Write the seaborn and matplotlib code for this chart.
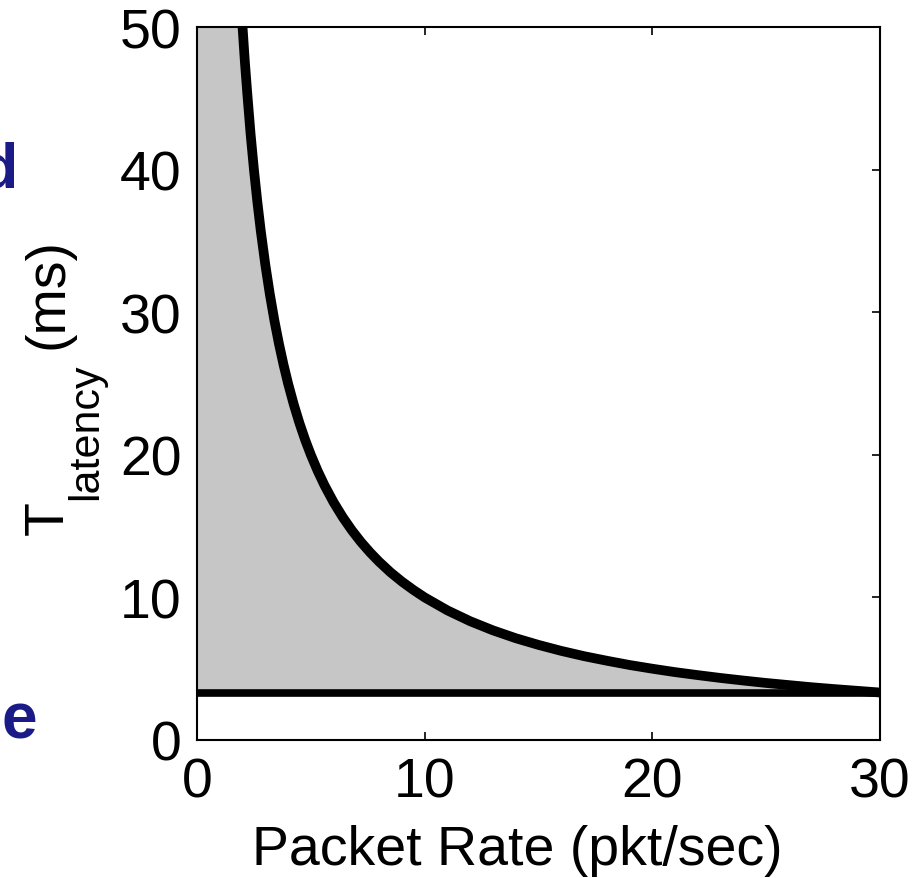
import seaborn as sns
import matplotlib
matplotlib.use('Agg')
import matplotlib.pyplot as plt

# latency bound curve (pkt/sec -> ms)
rate = [1.9, 2.0, 2.1, 2.2, 2.35, 2.5, 2.65, 2.8, 3.0, 3.2, 3.4, 3.6, 3.8, 4.0,
        4.25, 4.5, 4.75, 5.0, 5.3, 5.6, 6.0, 6.4, 6.8, 7.2, 7.6, 8.0, 8.5, 9.0,
        9.5, 10, 11, 12, 13, 14, 15, 16, 17, 18, 19, 20, 21, 22, 23, 24, 25,
        26, 27, 28, 29, 30]
latency = [52.6, 50.0, 47.6, 45.5, 42.55, 40.0, 37.74, 35.71, 33.33, 31.25, 29.41,
           27.78, 26.32, 25.0, 23.53, 22.22, 21.05, 20.0, 18.87, 17.86, 16.67,
           15.63, 14.71, 13.89, 13.16, 12.5, 11.76, 11.11, 10.53, 10.0, 9.09, 8.33,
           7.69, 7.14, 6.67, 6.25, 5.88, 5.56, 5.26, 5.0, 4.76, 4.55, 4.35, 4.17,
           4.0, 3.85, 3.70, 3.57, 3.45, 3.33]

# minimum latency floor
floor_x = [0, 30]
floor_y = [3.33, 3.33]

xticks = [0, 10, 20, 30]
yticks = [0, 10, 20, 30, 40, 50]

sns.set_style('ticks')
plt.rcParams['font.family'] = ['Liberation Sans', 'DejaVu Sans']
plt.rcParams['text.color'] = 'black'
plt.rcParams['axes.labelcolor'] = 'black'

W, H = 922, 879
fig = plt.figure(figsize=(W / 100, H / 100), dpi=100)
ax = fig.add_axes([0.2137, 0.157, 0.7407, 0.811])

# shaded region between floor and curve (full height left of the curve)
fill_x = [0] + rate[1:]
fill_top = [50] + latency[1:]
ax.fill_between(fill_x, floor_y[0], fill_top, color='#c6c6c6', linewidth=0, zorder=1)

sns.lineplot(x=rate, y=latency, ax=ax, color='black', linewidth=7,
             sort=False, zorder=3, solid_joinstyle='round', solid_capstyle='butt')
sns.lineplot(x=floor_x, y=floor_y, ax=ax, color='black', linewidth=5.5, zorder=3)

ax.set_xlim(0, 30)
ax.set_ylim(0, 50)
ax.set_xticks(xticks)
ax.set_yticks(yticks)
ax.tick_params(direction='in', length=6, width=1.2, labelsize=40,
               top=True, right=True, colors='black')
ax.tick_params(axis='y', pad=11)
ax.tick_params(axis='x', pad=12)
for s in ax.spines.values():
    s.set_linewidth(1.5)
    s.set_color('black')

ax.set_xlabel('Packet Rate (pkt/sec)', fontsize=40)
ax.xaxis.set_label_coords(0.469, -0.118)

# y label built from pieces so the subscript sits like the original
def px(x, y):
    return x / W, 1 - y / H

lab = dict(rotation=90, rotation_mode='anchor', ha='left', va='baseline')
fig.text(*px(63, 535), 'T', fontsize=40, **lab)
fig.text(*px(97, 500), 'latency', fontsize=31, **lab)
fig.text(*px(63, 349), '(ms)', fontsize=40, **lab)

# cut-off slide text at the left edge
fig.text(*px(18, 187), 'd', color='#1b1b88', fontsize=45,
         fontweight='bold', ha='right', va='baseline')
fig.text(*px(2, 739), 'e', color='#1b1b88', fontsize=46,
         fontweight='bold', ha='left', va='baseline')

fig.savefig('out.png', dpi=100)
